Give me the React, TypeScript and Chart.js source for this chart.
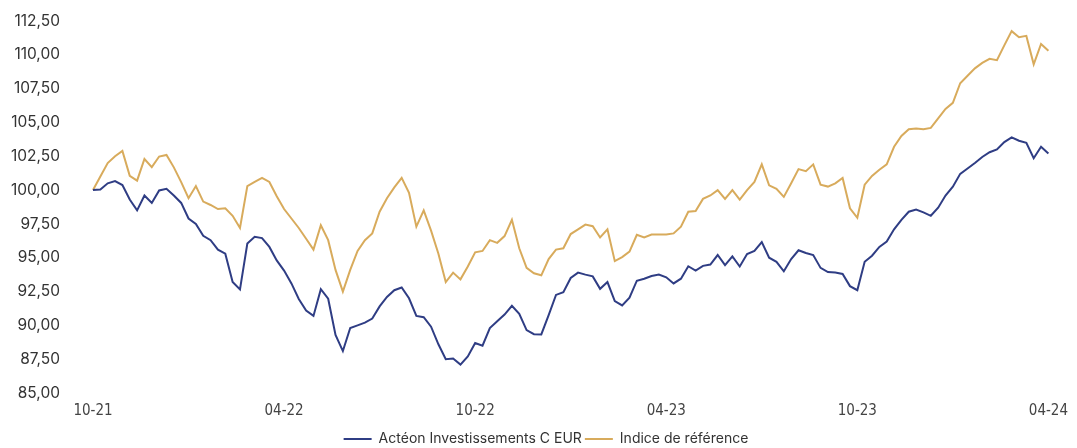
import React, { useEffect, useRef } from "react";
import { Chart, registerables } from "chart.js";

Chart.register(...registerables);

// Weekly observations from 10-21 to 04-24 (131 weeks)
const weekCount = 131;
const weeks: number[] = Array.from({ length: weekCount }, (_, i) => i);
const tickLabels = ["10-21", "04-22", "10-22", "04-23", "10-23", "04-24"];
const weeksPerTick = 26;

const seriesNames = ["Actéon Investissements C EUR", "Indice de référence"];

const fundValues = [
  100, 100.05, 100.5, 100.66, 100.37, 99.3, 98.5, 99.6, 99.05, 99.97,
  100.1, 99.6, 99.05, 97.9, 97.5, 96.62, 96.3, 95.6, 95.3, 93.2,
  92.65, 96.05, 96.55, 96.45, 95.8, 94.8, 94.05, 93.1, 91.95, 91.1,
  90.7, 92.67, 91.97, 89.3, 88.1, 89.8, 90.0, 90.2, 90.5, 91.4,
  92.1, 92.6, 92.8, 92.0, 90.7, 90.6, 89.9, 88.6, 87.5, 87.55,
  87.1, 87.7, 88.7, 88.5, 89.8, 90.3, 90.8, 91.45, 90.85, 89.65,
  89.35, 89.33, 90.75, 92.25, 92.45, 93.5, 93.9, 93.75, 93.62, 92.7,
  93.2, 91.8, 91.47, 92.05, 93.3, 93.45, 93.65, 93.75, 93.55, 93.1,
  93.45, 94.37, 94.05, 94.4, 94.5, 95.2, 94.45, 95.1, 94.35, 95.27,
  95.5, 96.15, 95.0, 94.7, 94.0, 94.9, 95.55, 95.35, 95.2, 94.25,
  93.94, 93.9, 93.8, 92.9, 92.6, 94.7, 95.15, 95.8, 96.2, 97.1,
  97.8, 98.4, 98.56, 98.35, 98.1, 98.7, 99.6, 100.25, 101.2, 101.6,
  102.0, 102.45, 102.8, 103.0, 103.55, 103.9, 103.65, 103.5, 102.35, 103.2,
  102.7,
];

const benchmarkValues = [
  100, 101.0, 102.0, 102.5, 102.9, 101.05, 100.7, 102.3, 101.7, 102.48,
  102.6, 101.68, 100.59, 99.4, 100.3, 99.15, 98.9, 98.6, 98.66, 98.1,
  97.2, 100.3, 100.6, 100.9, 100.6, 99.55, 98.6, 97.9, 97.2, 96.4,
  95.6, 97.4, 96.3, 94.1, 92.5, 94.1, 95.5, 96.3, 96.8, 98.4,
  99.4, 100.2, 100.9, 99.8, 97.3, 98.5, 97.0, 95.3, 93.2, 93.9,
  93.4, 94.35, 95.4, 95.5, 96.3, 96.1, 96.6, 97.8, 95.7, 94.25,
  93.85, 93.7, 94.9, 95.6, 95.7, 96.75, 97.1, 97.45, 97.33, 96.5,
  97.1, 94.75, 95.05, 95.45, 96.7, 96.5, 96.72, 96.72, 96.72, 96.8,
  97.3, 98.4, 98.45, 99.35, 99.6, 100.0, 99.35, 100.0, 99.3, 100.0,
  100.6, 101.9, 100.35, 100.1, 99.5, 100.5, 101.55, 101.4, 101.9, 100.4,
  100.26, 100.5, 100.9, 98.65, 97.95, 100.4, 101.05, 101.5, 101.9, 103.2,
  104.0, 104.5, 104.55, 104.5, 104.6, 105.3, 106.0, 106.45, 107.9, 108.45,
  109.0, 109.4, 109.7, 109.6, 110.7, 111.75, 111.3, 111.4, 109.3, 110.8,
  110.3,
];

const yMin = 85;
const yMax = 112.5;
const yStep = 2.5;

const fundColor = "#2f3d84";
const benchColor = "#d8ab5c";

const legendOffset = {
  id: "legendOffset",
  afterLayout(chart: any) {
    if (chart.legend) {
      chart.legend.left += 13;
      chart.legend.right += 13;
    }
  },
};

export default function App() {
  const canvasRef = useRef<HTMLCanvasElement | null>(null);

  useEffect(() => {
    if (!canvasRef.current) return;
    const chart = new Chart(canvasRef.current, {
      type: "line",
      data: {
        labels: weeks,
        datasets: [
          {
            label: seriesNames[0],
            data: fundValues,
            borderColor: fundColor,
            backgroundColor: fundColor,
            borderWidth: 2,
            pointRadius: 0,
            tension: 0,
          },
          {
            label: seriesNames[1],
            data: benchmarkValues,
            borderColor: benchColor,
            backgroundColor: benchColor,
            borderWidth: 2,
            pointRadius: 0,
            tension: 0,
          },
        ],
      },
      plugins: [legendOffset],
      options: {
        animation: false,
        responsive: false,
        maintainAspectRatio: false,
        layout: { padding: { left: 10, right: 21, top: 21, bottom: -8 } },
        plugins: {
          tooltip: { enabled: false },
          legend: {
            position: "bottom",
            labels: {
              boxWidth: 28,
              boxHeight: 2,
              padding: 3,
              color: "#333",
              font: { family: "Inter, 'Noto Sans', sans-serif", size: 14 },
              generateLabels: (c: any) =>
                c.data.datasets.map((ds: any, i: number) => ({
                  text: ds.label,
                  fillStyle: ds.borderColor,
                  strokeStyle: ds.borderColor,
                  lineWidth: 0,
                  hidden: false,
                  datasetIndex: i,
                  fontColor: "#333",
                })),
            },
          },
        },
        scales: {
          x: {
            grid: { display: false, drawTicks: false },
            border: { display: false },
            ticks: {
              autoSkip: false,
              maxRotation: 0,
              minRotation: 0,
              padding: 9,
              color: "#444",
              font: {
                family: "'Liberation Sans Narrow', 'DejaVu Sans Condensed', sans-serif",
                size: 15,
              },
              callback: (_v: any, idx: number) =>
                idx % weeksPerTick === 0 ? tickLabels[idx / weeksPerTick] : null,
            },
          },
          y: {
            min: yMin,
            max: yMax,
            grid: { display: false, drawTicks: false },
            border: { display: false },
            afterFit: (scale: any) => {
              scale.width = 83;
              scale.paddingTop = 0;
              scale.paddingBottom = 0;
            },
            ticks: {
              stepSize: yStep,
              padding: 33,
              color: "#333",
              font: { family: "Inter, 'Noto Sans', sans-serif", size: 15.5 },
              callback: (v: any) => Number(v).toFixed(2).replace(".", ","),
            },
          },
        },
      },
    });
    return () => chart.destroy();
  }, []);

  return (
    <div style={{ position: "fixed", left: 0, top: 0, width: 1077, height: 448, background: "#fff" }}>
      <canvas ref={canvasRef} width={1077} height={448} style={{ width: 1077, height: 448 }} />
    </div>
  );
}
